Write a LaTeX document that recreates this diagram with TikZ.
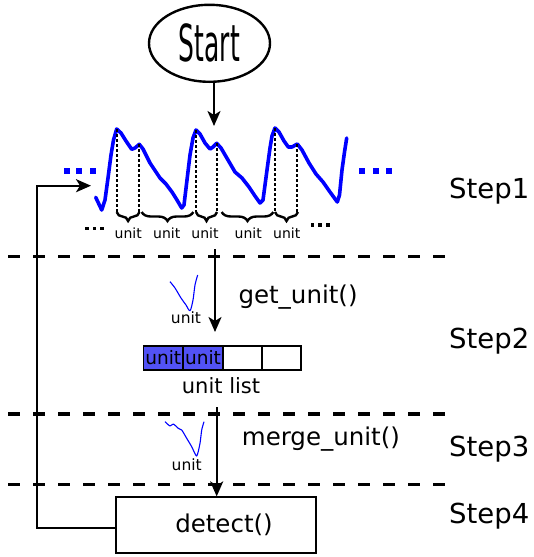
\documentclass[tikz,border=0pt]{standalone}
\usepackage{fontspec}
\setmainfont{DejaVu Sans}
\usetikzlibrary{arrows.meta,decorations.pathreplacing,shapes.geometric}
\newcommand\fsz[1]{\fontsize{#1}{#1}\selectfont}
\begin{document}
\begin{tikzpicture}[x=1pt,y=-1pt,
  arr/.style={line width=2.2pt,-{Stealth[length=15pt,width=13pt,inset=4pt]}},
  sep/.style={line width=3.5pt,dash pattern=on 12pt off 13pt},
  guide/.style={line width=2pt,dash pattern=on 3pt off 2pt},
  ubrace/.style={decorate,decoration={brace,amplitude=9pt,mirror},line width=2.4pt},
  wave/.style={blue,line width=3.6pt,line join=round,line cap=round},
  thinwave/.style={blue,line width=1.1pt,line join=round},
  cell/.style={draw,line width=1.8pt,minimum width=39.5pt,minimum height=24.3pt,inner sep=0pt,font=\fsz{18.5}},
  steplab/.style={anchor=base west,inner sep=0pt,font=\fsz{27.5}},
  fnlab/.style={anchor=base west,inner sep=0pt,font=\fsz{24.5}},
  ulab/.style={anchor=base,inner sep=0pt,font=\fsz{14}},
  slab/.style={anchor=base,inner sep=0pt,font=\fsz{15.5}}
]
\definecolor{cellblue}{RGB}{82,82,245}
\useasboundingbox (0,0) rectangle (533,557);

% separators
\draw[sep] (8,256.7) -- (445,256.7);
\draw[sep] (8,414) -- (445,414);
\draw[sep] (8,484.3) -- (445,484.3);

% start
\node[ellipse,draw,line width=2.4pt,minimum width=121pt,minimum height=77pt,inner sep=0pt] (start) at (209.5,43.3)
  {\scalebox{0.49}[1]{\fsz{51}Start}};
\coordinate (s1) at (214,126);
\draw[arr] (start.south -| s1) -- (s1);

% waveform
\draw[wave] plot coordinates {
 (95.7,197.3) (101.7,210) (105,200) (108,178) (111,155) (113.5,140) (116.7,129)
 (121,133) (126,141) (131.7,149.3) (135,148) (139.3,144.3) (143,149) (150,163) (160,178) (166,184) (172,192) (177,200) (181.7,208) (184,205) (187,180) (190,155) (193,138) (196,130)
 (200,134) (205,143) (210,149) (213,147) (216.7,143.3) (221,148) (228,160) (235,172) (242,178) (249,187) (255,196) (260,203) (263,200) (267,170) (270,148) (272,136) (275,128)
 (279,132) (284,141) (288.3,147) (292,147) (297.3,144) (302,150) (309,163) (316,174) (323,182) (330,192) (337.3,202) (339.5,195) (342,170) (344.5,152) (346.7,138)};

% guides
\foreach \x/\y in {116.7/129,139.3/144.3,196/130,216.7/143.3,275/128,297.3/144}
  \draw[guide] (\x,\y) -- (\x,212);

% braces
\draw[ubrace] (116.7,212) -- (139.5,212);
\draw[ubrace] (141.7,212) -- (193.3,212);
\draw[ubrace] (196,212) -- (217,212);
\draw[ubrace] (221.7,212) -- (273.3,212);
\draw[ubrace] (275,212) -- (298,212);
\foreach \x [count=\i] in {128.3,166.7,205,248.3,286.7}
  \node[ulab] (u\i) at (\x,238.3) {unit};

% dots
\foreach \x in {66.7,79.3,92.7,362.3,376,389}
  \fill[blue] (\x-3,168) rectangle (\x+3,174);
\foreach \x in {86.7,94.3,101.7}
  \fill (\x-1.8,226.5) rectangle (\x+1.8,230.1);
\foreach \x in {312.3,320,327.7}
  \fill (\x-1.8,223.2) rectangle (\x+1.8,226.8);

% step 2
\coordinate (g0) at (215,249);
\coordinate (g1) at (215,332);
\draw[arr] (g0) -- (g1);
\draw[thinwave] plot[smooth,tension=0.5] coordinates {(170,281.7) (175,288) (181,298) (186,305) (190,310.7) (193,300) (195,285) (197.7,275)};
\node[slab] (su1) at (186,323.3) {unit};
\node[fnlab] (getu) at (238.3,303.3) {get\_unit()};

\node[cell,fill=cellblue] (c1) at (163.3,357.9) {unit};
\node[cell,fill=cellblue] (c2) at (203,357.9) {unit};
\node[cell] (c3) at (242.5,357.9) {};
\node[cell] (c4) at (281.5,357.9) {};
\node[anchor=base,inner sep=0pt,font=\fsz{21}] (ul) at (221,393.3) {unit list};

% step 3
\coordinate (m0) at (216.7,407);
\draw[thinwave] plot[smooth,tension=0.4] coordinates {(165,421.7) (170,426) (173.3,424) (178.3,428.3) (181.7,430) (186.7,438.3) (191.7,446.7) (196.7,456) (200,443.3) (201.7,430) (204,421.7)};
\node[slab] (su2) at (186.7,470.7) {unit};
\node[fnlab] (mergeu) at (241.7,445) {merge\_unit()};

% step 4
\node[draw,line width=1.8pt,minimum width=200.3pt,minimum height=55.4pt,inner sep=0pt,font=\fsz{24.5}] (det) at (216,525) {\hspace*{16pt}detect()};
\draw[arr] (m0) -- (m0 |- det.north);

% loop back
\coordinate (l0) at (37,528.3);
\coordinate (l1) at (91,185.7);
\draw[arr] ([yshift=-3.3pt]det.west) -- (l0) |- (l1);

% step labels
\node[steplab] (st1) at (449,198) {Step1};
\node[steplab] (st2) at (449,348.3) {Step2};
\node[steplab] (st3) at (449,456.7) {Step3};
\node[steplab] (st4) at (449,523.3) {Step4};
\end{tikzpicture}
\end{document}
